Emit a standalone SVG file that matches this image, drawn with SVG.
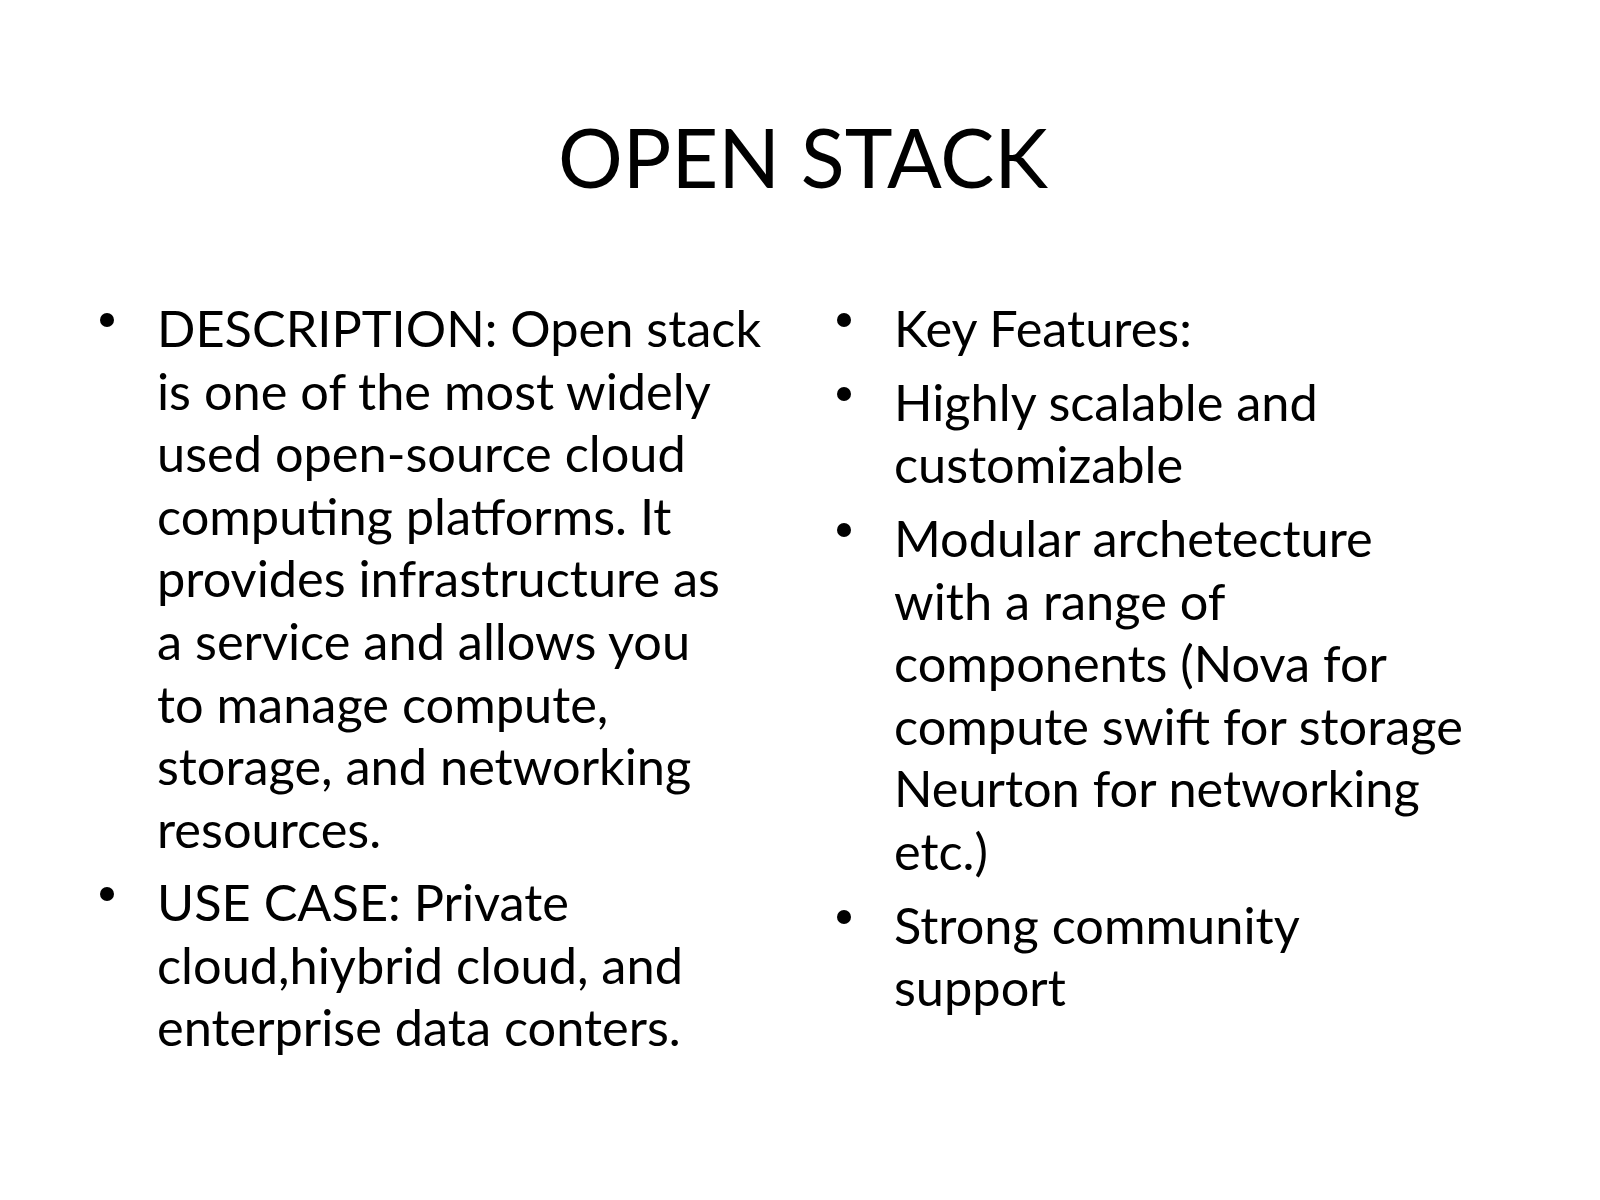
<svg xmlns="http://www.w3.org/2000/svg" width="1600" height="1200" viewBox="0 0 1600 1200">
<style>
text{font-family:Lato,"Open Sans","Liberation Sans",sans-serif;fill:#000}
.t{font-size:81px}
.b{font-size:50.5px}
</style>
<rect width="1600" height="1200" fill="#fff"/>
<text class="t" x="803" y="188" text-anchor="middle">OPEN STACK</text>
<g class="b">
<g id="left">
<circle cx="107" cy="320" r="7"/>
<text x="157" y="347">DESCRIPTION: Open stack</text>
<text x="157" y="409.6">is one of the most widely</text>
<text x="157" y="472.2">used open-source cloud</text>
<text x="157" y="534.8">computing platforms. It</text>
<text x="157" y="597.4">provides infrastructure as</text>
<text x="157" y="660">a service and allows you</text>
<text x="157" y="722.6">to manage compute,</text>
<text x="157" y="785.2">storage, and networking</text>
<text x="157" y="847.8">resources.</text>
<circle cx="107" cy="894" r="7"/>
<text x="157" y="921">USE CASE: Private</text>
<text x="157" y="983.6">cloud,hiybrid cloud, and</text>
<text x="157" y="1046.2">enterprise data conters.</text>
</g>
<g id="right">
<circle cx="844" cy="320" r="7"/>
<text x="894" y="347">Key Features:</text>
<circle cx="844" cy="394" r="7"/>
<text x="894" y="420.5">Highly scalable and</text>
<text x="894" y="483.1">customizable</text>
<circle cx="844" cy="530" r="7"/>
<text x="894" y="557">Modular archetecture</text>
<text x="894" y="619.6">with a range of</text>
<text x="894" y="682.2">components (Nova for</text>
<text x="894" y="744.8">compute swift for storage</text>
<text x="894" y="807.4">Neurton for networking</text>
<text x="894" y="870">etc.)</text>
<circle cx="844" cy="917" r="7"/>
<text x="894" y="943.6">Strong community</text>
<text x="894" y="1006.2">support</text>
</g>
</g>
</svg>
